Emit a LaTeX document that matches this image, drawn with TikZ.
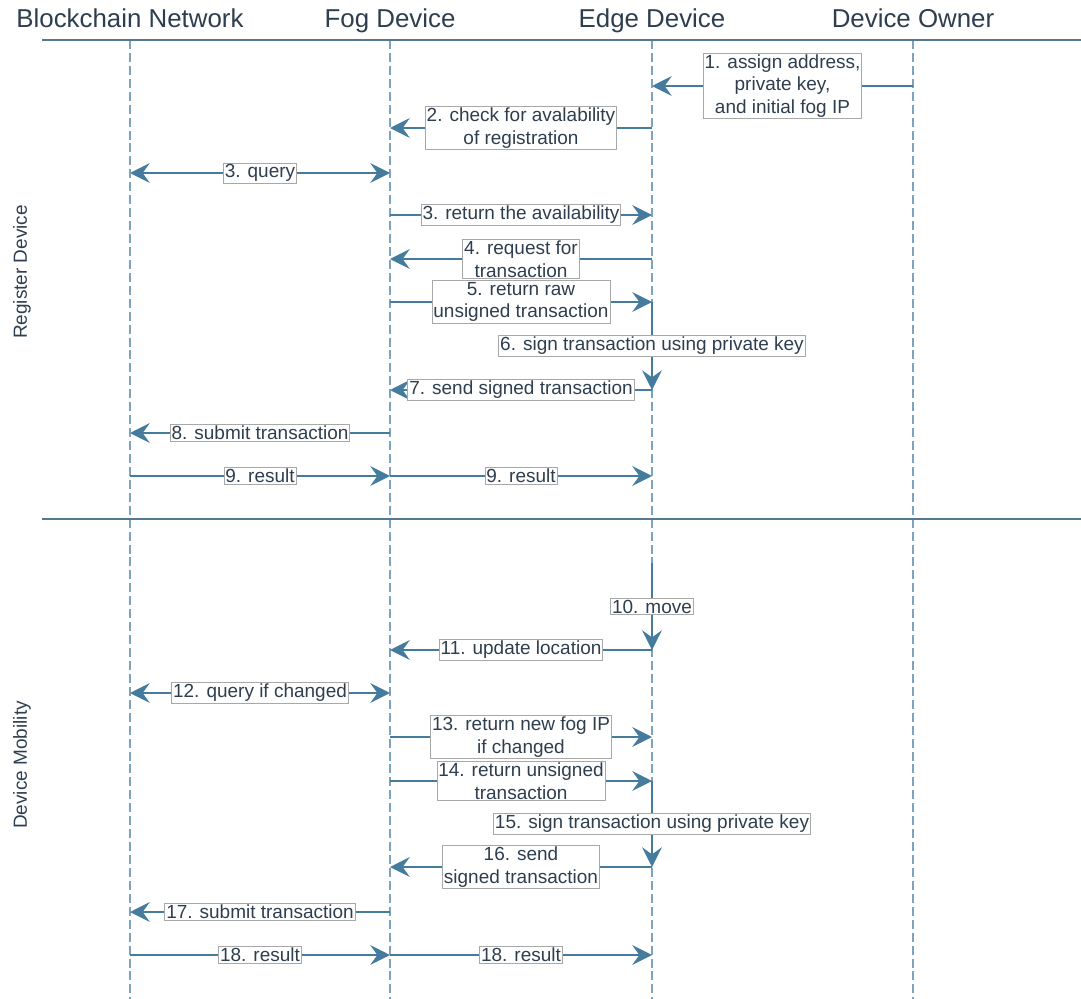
\documentclass[tikz,border=0pt]{standalone}
\usepackage{fontspec}
\setmainfont{Liberation Sans}
\usetikzlibrary{arrows.meta,calc}
\definecolor{msgblue}{HTML}{457B9D}
\definecolor{lifeblue}{HTML}{7CA4C1}
\definecolor{sepblue}{HTML}{56788F}
\definecolor{inkgray}{HTML}{2F3E4E}
\definecolor{boxgray}{HTML}{A8A8A8}

\begin{document}
\begin{tikzpicture} [x=0.025cm,y=-0.025cm,
	actor/.style={
		anchor=base,
		text=inkgray,
		font=\fontsize{18.4}{22}\selectfont
	},
	phase/.style={
		rotate=90,
		text=inkgray,
		font=\fontsize{13.5}{16}\selectfont
	},
	lifeline/.style={
		draw=lifeblue,
		line width=1.4pt,
		dash pattern=on 6.4pt off 2.8pt
	},
	sepline/.style={draw=sepblue,line width=1.4pt},
	msg/.style={
		draw=msgblue,
		line width=1.4pt,
		-{Stealth[length=14pt,width=14pt,inset=5pt]}
	},
	bothways/.style={
		{Stealth[length=14pt,width=14pt,inset=5pt]}-{Stealth[length=14pt,width=14pt,inset=5pt]}
	},
	lbl/.style={
		fill=white,
		draw=boxgray,
		line width=0.6pt,
		inner sep=1pt,
		align=center,
		text=inkgray,
		font=\fontsize{13.5}{16}\selectfont
	}
]
	\useasboundingbox (0,0) rectangle (1081,999);

	% actors and their lifelines
	\node[actor] (chain) at (130,28) {Blockchain Network};
	\node[actor] (fog) at (390,28) {Fog Device};
	\node[actor] (edge) at (652,28) {Edge Device};
	\node[actor] (owner) at (913,28) {Device Owner};
	\coordinate (headl) at (42,40);
	\coordinate (headr) at (1081,40);
	\coordinate (midl) at (42,519);
	\coordinate (midr) at (1081,519);
	\coordinate (foot) at (0,999);
	\foreach \a in {chain,fog,edge,owner}
		\draw[lifeline] (\a |- headl) -- (\a |- foot);
	\draw[sepline] (headl) -- (headr);
	\draw[sepline] (midl) -- (midr);

	\node[phase] (register) at (22,272) {Register Device};
	\node[phase] (mobility) at (22,765) {Device Mobility};

	% message rows
	\foreach \n/\y in {1/86,2/128,3/173,4/215,5/259,6/302,7/390,8/433,9/476,
		10/563,11/650,12/693,13/737,14/781,16/867,17/912,18/955}
		\coordinate (row\n) at (0,\y);

	\draw[msg] (owner |- row1) -- node[lbl] (t1) {1. assign address,\\private key,\\and initial fog IP} (edge |- row1);
	\draw[msg] (edge |- row2) -- node[lbl] (t2) {2. check for avalability\\of registration} (fog |- row2);
	\draw[msg,bothways] (chain |- row3) -- node[lbl] (t3) {3. query} (fog |- row3);
	\draw[msg] (fog |- row4) -- node[lbl] (t3b) {3. return the availability} (edge |- row4);
	\draw[msg] (edge |- row5) -- node[lbl] (t4) {4. request for\\transaction} (fog |- row5);
	\draw[msg] (fog |- row6) -- node[lbl] (t5) {5. return raw\\unsigned transaction} (edge |- row6);
	\draw[msg] (edge |- row6) -- node[lbl] (t6) {6. sign transaction using private key} (edge |- row7);
	\draw[msg] (edge |- row7) -- node[lbl] (t7) {7. send signed transaction} (fog |- row7);
	\draw[msg] (fog |- row8) -- node[lbl] (t8) {8. submit transaction} (chain |- row8);
	\draw[msg] (chain |- row9) -- node[lbl] (t9) {9. result} (fog |- row9);
	\draw[msg] (fog |- row9) -- node[lbl] (t9b) {9. result} (edge |- row9);

	\draw[msg] (edge |- row10) -- node[lbl] (t10) {10. move} (edge |- row11);
	\draw[msg] (edge |- row11) -- node[lbl] (t11) {11. update location} (fog |- row11);
	\draw[msg,bothways] (chain |- row12) -- node[lbl] (t12) {12. query if changed} (fog |- row12);
	\draw[msg] (fog |- row13) -- node[lbl] (t13) {13. return new fog IP\\if changed} (edge |- row13);
	\draw[msg] (fog |- row14) -- node[lbl] (t14) {14. return unsigned\\transaction} (edge |- row14);
	\draw[msg] (edge |- row14) -- node[lbl] (t15) {15. sign transaction using private key} (edge |- row16);
	\draw[msg] (edge |- row16) -- node[lbl] (t16) {16. send\\signed transaction} (fog |- row16);
	\draw[msg] (fog |- row17) -- node[lbl] (t17) {17. submit transaction} (chain |- row17);
	\draw[msg] (chain |- row18) -- node[lbl] (t18) {18. result} (fog |- row18);
	\draw[msg] (fog |- row18) -- node[lbl] (t18b) {18. result} (edge |- row18);
\end{tikzpicture}
\end{document}
